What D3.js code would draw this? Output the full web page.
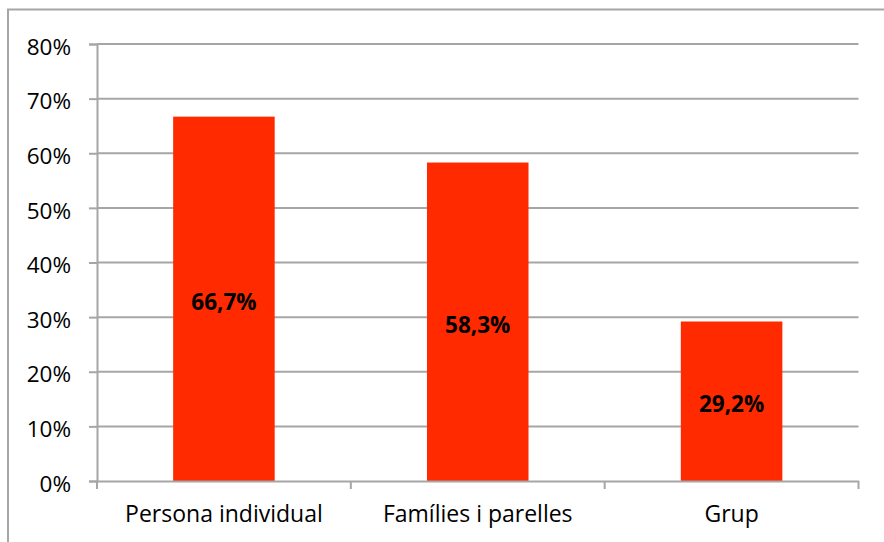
<!DOCTYPE html>
<html><head><meta charset="utf-8">
<script src="https://cdn.jsdelivr.net/npm/d3@7"></script>
<style>html,body{margin:0;padding:0;background:#fff;}svg{display:block;}</style>
</head><body>
<svg id="c" width="884" height="542"></svg>
<script>
const categories = ["Persona individual", "Famílies i parelles", "Grup"];
const values = [0.667, 0.583, 0.292];
const valueLabels = ["66,7%", "58,3%", "29,2%"];
const yTicks = [0, 0.1, 0.2, 0.3, 0.4, 0.5, 0.6, 0.7, 0.8];

const svg = d3.select("#c");
const W = 884, H = 542;
const m = {left: 97, right: 884 - 858.5, top: 44, bottom: 542 - 481};
const font = "'Open Sans', sans-serif";

// outer frame
svg.append("rect").attr("x", 8).attr("y", 9.5).attr("width", 900).attr("height", 600)
  .attr("fill", "none").attr("stroke", "#a6a6a6").attr("stroke-width", 2);

const x = d3.scaleBand().domain(categories).range([m.left, W - m.right]).padding(0);
const y = d3.scaleLinear().domain([0, 0.8]).range([H - m.bottom, m.top]);

// gridlines
svg.append("g").selectAll("line").data(yTicks.filter(d => d > 0)).join("line")
  .attr("x1", m.left).attr("x2", W - m.right)
  .attr("y1", d => y(d)).attr("y2", d => y(d))
  .attr("stroke", "#a6a6a6").attr("stroke-width", 2);

// bars
const barW = x.bandwidth() * 0.4;
svg.append("g").selectAll("rect").data(values).join("rect")
  .attr("x", (d, i) => x(categories[i]) + (x.bandwidth() - barW) / 2)
  .attr("width", barW)
  .attr("y", d => y(d))
  .attr("height", d => y(0) - y(d))
  .attr("fill", "#ff2a00");

// y axis
const yAxis = svg.append("g").attr("transform", `translate(${m.left},0)`)
  .call(d3.axisLeft(y).tickValues(yTicks).tickFormat(d => Math.round(d * 100) + "%").tickSize(8).tickPadding(18));
yAxis.select(".domain").attr("stroke", "#a6a6a6").attr("stroke-width", 2);
yAxis.selectAll(".tick line").attr("stroke", "#a6a6a6").attr("stroke-width", 2);
yAxis.selectAll(".tick text").attr("font-family", font).attr("font-size", 22.5).attr("fill", "#000")
  .attr("dy", "0.45em");

// x axis
const xAxis = svg.append("g").attr("transform", `translate(0,${H - m.bottom})`)
  .call(d3.axisBottom(x).tickSize(0).tickPadding(25));
xAxis.select(".domain").attr("stroke", "#a6a6a6").attr("stroke-width", 2);
xAxis.selectAll(".tick text").attr("font-family", font).attr("font-size", 23).attr("fill", "#000");
// category boundary ticks
const bounds = categories.map(c => x(c)).concat([x(categories[categories.length - 1]) + x.bandwidth()]);
svg.append("g").selectAll("line").data(bounds).join("line")
  .attr("x1", d => d).attr("x2", d => d)
  .attr("y1", y(0)).attr("y2", y(0) + 8)
  .attr("stroke", "#a6a6a6").attr("stroke-width", 2);

// value labels
svg.append("g").selectAll("text").data(values).join("text")
  .attr("x", (d, i) => x(categories[i]) + x.bandwidth() / 2)
  .attr("y", d => (y(d) + y(0)) / 2)
  .attr("dy", "0.5em")
  .attr("text-anchor", "middle")
  .attr("font-family", font).attr("font-weight", "bold").attr("font-size", 22.5)
  .attr("fill", "#000")
  .text((d, i) => valueLabels[i]);
</script>
</body></html>
